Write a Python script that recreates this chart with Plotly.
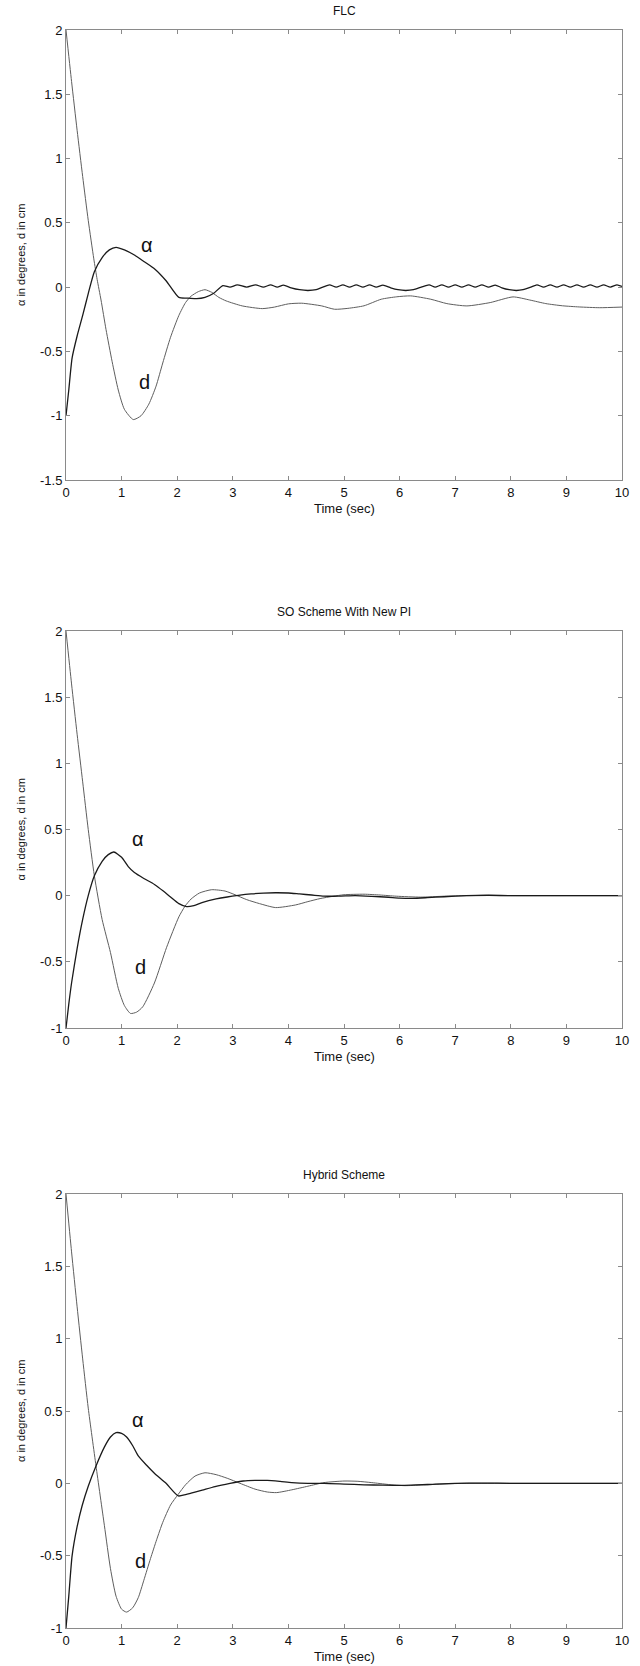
import plotly.graph_objects as go

# ---------------- data ----------------
titles = ["FLC", "SO Scheme With New PI", "Hybrid Scheme"]
x_ticks = [0, 1, 2, 3, 4, 5, 6, 7, 8, 9, 10]
y_ticks_flc = [-1.5, -1, -0.5, 0, 0.5, 1, 1.5, 2]
y_ticks_other = [-1, -0.5, 0, 0.5, 1, 1.5, 2]
y_tick_text_flc = ["-1.5", "-1", "-0.5", "0", "0.5", "1", "1.5", "2"]
y_tick_text_other = ["-1", "-0.5", "0", "0.5", "1", "1.5", "2"]

# FLC - alpha
t_flc_alpha = [0, 0.05, 0.11, 0.2, 0.3, 0.4, 0.51, 0.65, 0.78, 0.9, 1.05, 1.23, 1.4, 1.6, 1.8,
               2.03, 2.2, 2.35, 2.5, 2.65, 2.82, 2.95, 3.08, 3.25, 3.41, 3.55, 3.68, 3.8, 3.91,
               4.05, 4.2, 4.35, 4.5, 4.62, 4.74, 4.86, 4.98, 5.1, 5.22, 5.34, 5.46, 5.58, 5.7,
               5.84, 5.97, 6.11, 6.25, 6.39, 6.53, 6.64, 6.76, 6.88, 7.0, 7.12, 7.24, 7.36, 7.48,
               7.6, 7.72, 7.84, 7.97, 8.1, 8.22, 8.36, 8.47, 8.59, 8.71, 8.83, 8.95, 9.07, 9.19,
               9.31, 9.43, 9.55, 9.67, 9.79, 9.91, 10]
y_flc_alpha = [-1, -0.8, -0.55, -0.38, -0.22, -0.05, 0.12, 0.23, 0.29, 0.31, 0.29, 0.25, 0.2, 0.14, 0.05,
               -0.08, -0.085, -0.09, -0.08, -0.05, 0.012, 0.0, 0.018, 0.0, 0.018, 0.0, 0.018, 0.0, 0.016,
               -0.005, -0.02, -0.026, -0.02, 0.0, 0.018, 0.0, 0.018, 0.0, 0.018, 0.0, 0.018, 0.0, 0.016,
               -0.005, -0.02, -0.026, -0.02, 0.0, 0.018, 0.0, 0.018, 0.0, 0.018, 0.0, 0.018, 0.0, 0.018,
               0.0, 0.016, -0.005, -0.02, -0.026, -0.02, 0.0, 0.018, 0.0, 0.018, 0.0, 0.018, 0.0, 0.018,
               0.0, 0.018, 0.0, 0.018, 0.0, 0.018, 0.005]

# FLC - d
t_flc_d = [0, 0.1, 0.2, 0.3, 0.4, 0.5, 0.56, 0.63, 0.72, 0.83, 0.94, 1.05, 1.21, 1.35, 1.49, 1.62,
           1.74, 1.88, 2.03, 2.15, 2.25, 2.38, 2.5, 2.62, 2.75, 2.88, 3.17, 3.53, 3.75, 4.0, 4.24,
           4.6, 4.83, 5.07, 5.36, 5.67, 5.95, 6.2, 6.56, 6.85, 7.21, 7.63, 8.04, 8.34, 8.63, 8.93,
           9.23, 9.6, 10]
y_flc_d = [2, 1.6, 1.22, 0.86, 0.52, 0.22, 0.06, -0.1, -0.33, -0.58, -0.8, -0.95, -1.03, -1.0, -0.91, -0.77,
           -0.59, -0.39, -0.22, -0.12, -0.07, -0.035, -0.02, -0.04, -0.08, -0.107, -0.146, -0.167, -0.155, -0.13, -0.125,
           -0.146, -0.172, -0.165, -0.145, -0.094, -0.075, -0.068, -0.094, -0.128, -0.146, -0.12, -0.076, -0.1, -0.128, -0.145,
           -0.154, -0.16, -0.155]

# SO scheme - alpha
t_so_alpha = [0, 0.05, 0.1, 0.2, 0.3, 0.4, 0.51, 0.65, 0.76, 0.86, 1.0, 1.12, 1.23, 1.4, 1.59, 1.75,
              1.88, 2.03, 2.17, 2.3, 2.46, 2.7, 2.9, 3.1, 3.33, 3.55, 3.77, 4.0, 4.2, 4.42, 4.64,
              4.9, 5.2, 5.5, 5.8, 6.0, 6.23, 6.5, 6.8, 7.2, 7.6, 8.0, 9.0, 10]
y_so_alpha = [-1, -0.82, -0.66, -0.4, -0.18, 0.0, 0.15, 0.26, 0.31, 0.33, 0.29, 0.22, 0.175, 0.13, 0.085, 0.035,
              -0.01, -0.06, -0.083, -0.075, -0.05, -0.025, -0.01, 0.002, 0.013, 0.019, 0.022, 0.02, 0.013, 0.005, -0.003,
              -0.004, 0.0, -0.005, -0.012, -0.018, -0.02, -0.015, -0.008, 0.0, 0.003, 0.0, 0.0, 0.0]

# SO scheme - d
t_so_d = [0, 0.1, 0.2, 0.3, 0.4, 0.51, 0.65, 0.8, 0.94, 1.05, 1.16, 1.27, 1.38, 1.59, 1.81, 2.03,
          2.14, 2.25, 2.4, 2.62, 2.86, 3.04, 3.25, 3.48, 3.77, 4.13, 4.35, 4.57, 4.8, 5.0, 5.36,
          5.65, 5.94, 6.38, 6.8, 7.2, 7.54, 8.0, 9.0, 10]
y_so_d = [2, 1.6, 1.22, 0.86, 0.5, 0.15, -0.18, -0.43, -0.7, -0.83, -0.89, -0.88, -0.84, -0.66, -0.39, -0.16,
          -0.08, -0.025, 0.02, 0.045, 0.035, 0.007, -0.03, -0.06, -0.09, -0.07, -0.045, -0.022, -0.005, 0.007, 0.011,
          0.005, -0.004, -0.011, -0.004, 0.0, 0.002, 0.0, 0.0, 0.0]

# Hybrid scheme - alpha
t_hy_alpha = [0, 0.05, 0.11, 0.2, 0.29, 0.4, 0.54, 0.69, 0.8, 0.9, 1.0, 1.09, 1.2, 1.3, 1.45, 1.59,
              1.8, 2.02, 2.15, 2.25, 2.45, 2.68, 2.95, 3.19, 3.4, 3.62, 3.85, 4.06, 4.35, 4.64, 5.0,
              5.36, 5.7, 6.09, 6.5, 7.0, 7.5, 8.0, 9.0, 10]
y_hy_alpha = [-1, -0.78, -0.5, -0.3, -0.155, -0.02, 0.12, 0.25, 0.32, 0.35, 0.345, 0.32, 0.26, 0.19, 0.125, 0.07,
              0.0, -0.087, -0.078, -0.068, -0.047, -0.022, 0.0, 0.016, 0.02, 0.02, 0.013, 0.005, 0.0, 0.0, -0.005,
              -0.01, -0.013, -0.014, -0.008, 0.0, 0.002, 0.0, 0.0, 0.0]

# Hybrid scheme - d
t_hy_d = [0, 0.1, 0.2, 0.3, 0.4, 0.54, 0.69, 0.8, 0.9, 1.0, 1.09, 1.2, 1.3, 1.4, 1.52, 1.63,
          1.74, 1.88, 2.02, 2.15, 2.32, 2.5, 2.7, 2.9, 3.13, 3.4, 3.62, 3.79, 4.06, 4.35, 4.64,
          5.0, 5.25, 5.5, 5.8, 6.09, 6.4, 6.8, 7.2, 8.0, 9.0, 10]
y_hy_d = [2, 1.6, 1.22, 0.86, 0.52, 0.12, -0.29, -0.59, -0.78, -0.87, -0.89, -0.86, -0.79, -0.67, -0.52, -0.39,
          -0.27, -0.15, -0.075, -0.01, 0.05, 0.073, 0.06, 0.035, 0.0, -0.04, -0.06, -0.064, -0.045, -0.02, 0.005,
          0.016, 0.014, 0.005, -0.008, -0.016, -0.012, -0.004, 0.0, 0.0, 0.0, 0.0]

# label positions for the curve names (data coordinates)
label_alpha_pos = [(1.45, 0.33), (1.3, 0.43), (1.3, 0.44)]
label_d_pos = [(1.41, -0.74), (1.34, -0.54), (1.34, -0.54)]

# ---------------- layout geometry ----------------
W, H = 640, 1666
ML, MR, MT, MB = 66, 18, 30, 38
PH = H - MT - MB
PW = W - ML - MR
panel_px = [(30, 480), (631, 1028), (1194, 1628)]   # window rows (top, bottom) of each frame


def py2paper(py):
    return (H - MB - py) / PH


def px2paper(px):
    return (px - ML) / PW


FONT = "Liberation Sans, Arial, Helvetica, sans-serif"
FRAME = "#8a8a8a"

fig = go.Figure()

series = [
    (t_flc_alpha, y_flc_alpha, t_flc_d, y_flc_d),
    (t_so_alpha, y_so_alpha, t_so_d, y_so_d),
    (t_hy_alpha, y_hy_alpha, t_hy_d, y_hy_d),
]
yranges = [(-1.5, 2), (-1, 2), (-1, 2)]
ytv = [y_ticks_flc, y_ticks_other, y_ticks_other]
ytt = [y_tick_text_flc, y_tick_text_other, y_tick_text_other]

annotations = []
for i, (ta, ya, td, yd) in enumerate(series):
    sfx = "" if i == 0 else str(i + 1)
    xa, ya_name = "x" + sfx, "y" + sfx
    fig.add_trace(go.Scatter(x=td, y=yd, mode="lines", xaxis=xa, yaxis=ya_name,
                             line=dict(color="#5e5e5e", width=1.0, shape="spline", smoothing=0.6),
                             showlegend=False, hoverinfo="skip"))
    fig.add_trace(go.Scatter(x=ta, y=ya, mode="lines", xaxis=xa, yaxis=ya_name,
                             line=dict(color="#1a1a1a", width=1.3, shape="spline", smoothing=0.6),
                             showlegend=False, hoverinfo="skip"))
    top, bot = panel_px[i]
    dom = [py2paper(bot), py2paper(top)]
    axcommon = dict(showline=True, mirror="ticks", linecolor=FRAME, linewidth=1,
                    ticks="inside", ticklen=4, tickcolor=FRAME, showgrid=False, zeroline=False,
                    tickfont=dict(family=FONT, size=13, color="#111111"))
    fig.layout["xaxis" + sfx] = dict(domain=[0, 1], range=[0, 10], anchor=ya_name,
                                     tickvals=x_ticks, ticktext=[str(v) for v in x_ticks], **axcommon)
    fig.layout["yaxis" + sfx] = dict(domain=dom, range=list(yranges[i]), anchor=xa,
                                     tickvals=ytv[i], ticktext=ytt[i], **axcommon)
    # title
    annotations.append(dict(text=titles[i], xref="paper", yref="paper", x=0.5, y=py2paper(top - 19),
                            showarrow=False, font=dict(family=FONT, size=12, color="#111111"),
                            xanchor="center", yanchor="middle"))
    # x label
    annotations.append(dict(text="Time (sec)", xref="paper", yref="paper", x=0.5, y=py2paper(bot + 28),
                            showarrow=False, font=dict(family=FONT, size=13, color="#111111"),
                            xanchor="center", yanchor="middle"))
    # y label
    annotations.append(dict(text="α in degrees, d in cm", xref="paper", yref="paper",
                            x=px2paper(21), y=py2paper((top + bot) / 2),
                            textangle=-90, showarrow=False,
                            font=dict(family=FONT, size=11, color="#111111"),
                            xanchor="center", yanchor="middle"))
    # curve names
    ax_, ay_ = label_alpha_pos[i]
    dx_, dy_ = label_d_pos[i]
    annotations.append(dict(text="α", xref=xa, yref=ya_name, x=ax_, y=ay_, showarrow=False,
                            font=dict(family=FONT, size=20, color="#111111")))
    annotations.append(dict(text="d", xref=xa, yref=ya_name, x=dx_, y=dy_, showarrow=False,
                            font=dict(family=FONT, size=20, color="#111111")))

fig.update_layout(width=W, height=H, margin=dict(l=ML, r=MR, t=MT, b=MB),
                  paper_bgcolor="white", plot_bgcolor="white",
                  annotations=annotations, showlegend=False)

# remove the browser's default 8 px body margin so the figure sits at the window origin
fig.write_html("out.html", config={"displayModeBar": False},
               post_script="document.body.style.margin='0px';")
